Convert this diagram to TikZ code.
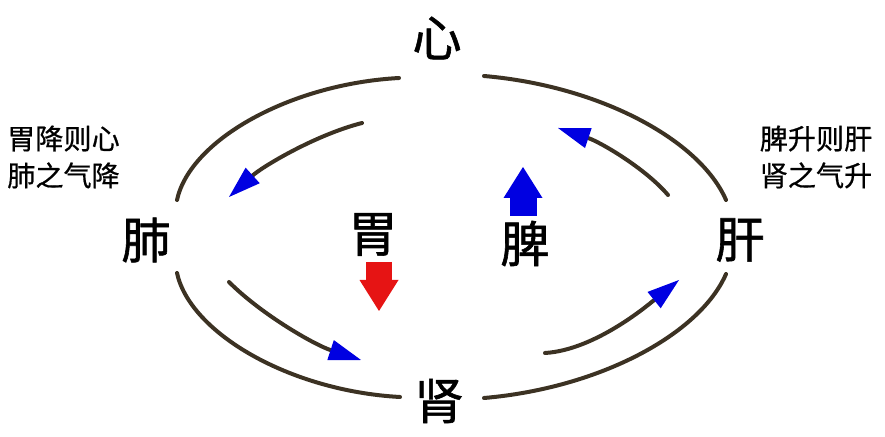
\documentclass[tikz,border=0pt]{standalone}
\usepackage{fontspec}
\setmainfont{Noto Sans CJK SC}
\newfontfamily\organfont{Noto Sans CJK SC}[FakeBold=1.2]
\newfontfamily\sayingfont{Noto Sans CJK SC}[FakeBold=0.6]
\usetikzlibrary{arrows.meta}
\definecolor{ringbrown}{RGB}{60,50,35}
\definecolor{qiblue}{RGB}{0,0,225}
\definecolor{sinkred}{RGB}{230,20,20}
\tikzset{
  ring/.style={draw=ringbrown, line width=0.08cm, line cap=round},
  qiflow/.style={ring, -{Triangle[length=0.64cm,width=0.42cm,line width=0pt,color=qiblue]}},
  organ/.style={font=\organfont\fontsize{28pt}{28pt}\selectfont, inner sep=0pt},
  saying/.style={font=\sayingfont\fontsize{16pt}{21pt}\selectfont, align=left, inner sep=0pt},
  bigarrow/.style={line width=0.52cm, -{Triangle[length=0.62cm,width=0.78cm,line width=0pt]}}
}

\begin{document}
\begin{tikzpicture}
    \useasboundingbox (0,0) rectangle (17.7,8.72);

    % organs
    \node[organ] (xin) at (8.74,7.96) {心};
    \node[organ] (fei) at (2.92,3.92) {肺};
    \node[organ] (gan) at (14.80,3.92) {肝};
    \node[organ] (shen) at (8.78,0.70) {肾};
    \node[organ] (wei) at (7.46,4.03) {胃};
    \node[organ] (pi) at (10.50,3.85) {脾};

    \node[saying] (jiang) at (1.27,5.58) {胃降则心\\肺之气降};
    \node[saying] (sheng) at (16.32,5.58) {脾升则肝\\肾之气升};

    % ends of the outer ring
    \coordinate (feiN) at (3.54,4.72);
    \coordinate (feiS) at (3.54,3.26);
    \coordinate (ganN) at (14.52,4.72);
    \coordinate (ganS) at (14.52,3.24);
    \coordinate (xinW) at (7.98,7.16);
    \coordinate (xinE) at (9.68,7.20);
    \coordinate (shenW) at (8.00,0.78);
    \coordinate (shenE) at (9.68,0.76);

    \draw[ring] (feiN) .. controls (3.80,5.92) and (5.80,7.04) .. (xinW);
    \draw[ring] (xinE) .. controls (12.00,7.00) and (14.00,5.92) .. (ganN);
    \draw[ring] (feiS) .. controls (3.80,2.06) and (5.80,0.90) .. (shenW);
    \draw[ring] (shenE) .. controls (12.00,0.96) and (14.00,2.04) .. (ganS);

    % inner flow: down on the left, up on the right
    \coordinate (downA) at (7.24,6.26);
    \coordinate (downB) at (4.58,4.78);
    \coordinate (downC) at (4.58,3.08);
    \coordinate (downD) at (7.22,1.52);
    \coordinate (upA) at (10.90,1.66);
    \coordinate (upB) at (13.58,3.12);
    \coordinate (upC) at (13.36,4.82);
    \coordinate (upD) at (11.16,6.16);

    \draw[qiflow] (downA) .. controls (6.30,6.02) and (5.24,5.38) .. (downB);
    \draw[qiflow] (downC) .. controls (5.24,2.42) and (6.30,1.82) .. (downD);
    \draw[qiflow] (upA) .. controls (11.90,1.72) and (12.96,2.62) .. (upB);
    \draw[qiflow] (upC) .. controls (12.90,5.36) and (12.00,5.88) .. (upD);

    % stomach sinks, spleen rises
    \coordinate (weiTop) at (7.58,3.48);
    \coordinate (weiTip) at (7.58,2.50);
    \coordinate (piFoot) at (10.46,4.40);
    \coordinate (piTip) at (10.46,5.38);
    \draw[bigarrow, sinkred] (weiTop) -- (weiTip);
    \draw[bigarrow, qiblue, line width=0.54cm] (piFoot) -- (piTip);
\end{tikzpicture}
\end{document}
